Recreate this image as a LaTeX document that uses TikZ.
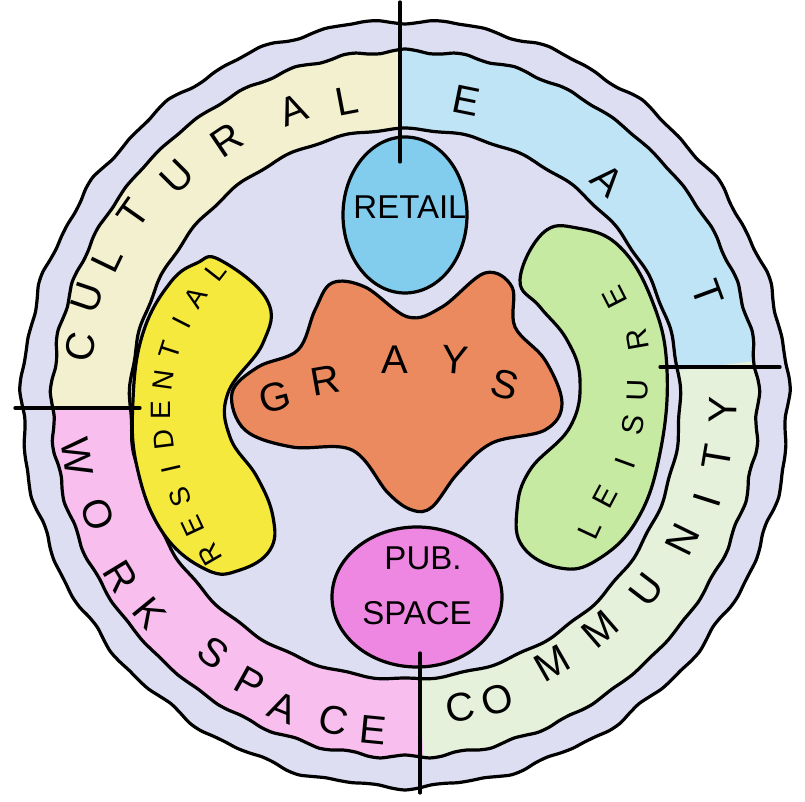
\documentclass[tikz,border=0pt]{standalone}
\usepackage{fontspec}
\setmainfont{Liberation Sans}
\definecolor{lav}{RGB}{221,222,241}
\definecolor{cultc}{RGB}{242,240,206}
\definecolor{eatc}{RGB}{190,228,245}
\definecolor{commc}{RGB}{229,241,218}
\definecolor{workc}{RGB}{247,190,238}
\definecolor{retc}{RGB}{130,205,238}
\definecolor{resc}{RGB}{246,233,62}
\definecolor{leic}{RGB}{198,234,162}
\definecolor{pubc}{RGB}{238,135,226}
\definecolor{grayc}{RGB}{234,138,94}
\tikzset{
  ink/.style={draw=black, line width=3.2pt, line join=round, line cap=round},
  bandletter/.style={font=\fontsize{40}{40}\selectfont, inner sep=0pt},
  innerletter/.style={font=\fontsize{28}{28}\selectfont, inner sep=0pt},
  smallletter/.style={font=\fontsize{30}{30}\selectfont, inner sep=0pt},
  blobtext/.style={font=\fontsize{33}{33}\selectfont, inner sep=0pt},
}
\begin{document}
\begin{tikzpicture}[x=1pt,y=1pt]
\useasboundingbox (0,0) rectangle (805,802);
\fill[white] (0,0) rectangle (805,802);
\begin{scope}[shift={(405,398)}]
  % whole disc
  \draw[ink, fill=lav] plot[smooth cycle, samples=180, domain=0:358]
    (\x:{383+1.8*sin(23*\x)+1.2*sin(43*\x)});
  % band sectors
  \fill[eatc]  (7:275) arc[start angle=7, end angle=91, radius=275] -- (91:353) arc[start angle=91, end angle=7, radius=353] -- cycle;
  \fill[cultc] (91:275) arc[start angle=91, end angle=181, radius=275] -- (181:353) arc[start angle=181, end angle=91, radius=353] -- cycle;
  \fill[workc] (181:275) arc[start angle=181, end angle=273, radius=275] -- (273:353) arc[start angle=273, end angle=181, radius=353] -- cycle;
  \fill[commc] (273:275) arc[start angle=273, end angle=367, radius=275] -- (367:353) arc[start angle=367, end angle=273, radius=353] -- cycle;
  % band edges
  \draw[ink] plot[smooth cycle, samples=180, domain=0:358]
    (\x:{353+1.2*sin(41*\x)+0.8*sin(37*\x)});
  \draw[ink] plot[smooth cycle, samples=180, domain=0:358]
    (\x:{275+1.0*sin(29*\x)});
  % band letters
  \foreach \ch/\a/\r [count=\i] in {C/170/330, U/161.4/335, L/154.2/331, T/144.9/332, U/135.1/322, R/124/318, A/110.9/315, L/100.8/309}
    \node[bandletter, rotate=\a-90] (cu\i) at (\a:\r) {\ch};
  \foreach \ch/\a/\r [count=\i] in {E/78.5/310, A/47.9/302, T/20.2/322}
    \node[bandletter, rotate=\a-90] (ea\i) at (\a:\r) {\ch};
  \foreach \ch/\a/\r [count=\i] in {W/189.2/332, O/199.8/327, R/211.3/333, K/219.3/330, S/232.4/314, P/240.9/319, A/248.1/327, C/257.2/324, E/264.4/328}
    \node[bandletter, rotate=\a+90] (wo\i) at (\a:\r) {\ch};
  \foreach \ch/\a/\r [count=\i] in {C/280.3/308, O/287.3/310, M/299.7/298, M/310.8/298, U/322.5/305, N/333.9/309, I/342.4/317, T/350.4/316, Y/358.9/318}
    \node[bandletter, rotate=\a+90] (co\i) at (\a:\r) {\ch};
\end{scope}
% inner shapes
\draw[ink, fill=retc] (405,587) ellipse[x radius=62, y radius=78];
\draw[ink, fill=pubc] (417,205) ellipse[x radius=85, y radius=70];
\draw[ink, fill=resc] plot[smooth cycle, tension=0.7] coordinates {
  (220,542) (267,502) (263,459) (228,409) (230,365) (257,325) (273,285)
  (270,252) (240,232) (207,232) (163,269) (137,335) (133,402) (143,469)
  (170,519) (197,539)};
\draw[ink, fill=leic] plot[smooth cycle, tension=0.7] coordinates {
  (520,522) (543,569) (577,574) (620,555) (653,499) (667,432) (660,349)
  (637,282) (597,242) (560,234) (523,255) (517,292) (530,332) (570,375)
  (580,422) (567,462) (540,495)};
\draw[ink, fill=grayc] plot[smooth cycle, tension=0.6] coordinates {
  (332,519) (365,515) (408,485) (442,495) (485,529) (512,515) (515,475)
  (545,442) (562,399) (545,372) (492,359) (458,329) (432,295) (412,292)
  (388,309) (352,352) (292,355) (245,372) (232,409) (258,435) (298,452)
  (315,492)};
% dividers
\draw[ink] (400,800) -- (400,640);
\draw[ink] (420,149) -- (420,9);
\draw[ink] (15,394) -- (140,394);
\draw[ink] (660,435) -- (780,435);
% inner texts
\node[blobtext] (retail) at (410,595) {RETAIL};
\node[blobtext] (pub) at (423,244) {PUB.};
\node[blobtext] (space) at (417,189) {SPACE};
\foreach \ch/\x/\y/\r [count=\i] in {G/275/405/15, R/325/422/10, A/395/442/0, Y/455/442/-5, S/505/417/-15}
  \node[bandletter] (gr\i) at (\x,\y) [rotate=\r] {\ch};
\foreach \ch/\x/\y/\r [count=\i] in {R/210/247/120, E/193/276/115, S/180/305/110, I/171/333/103, D/164/362/97, E/161/392/90, N/163/422/82, T/170/452/72, I/182/479/63, A/196/505/57, L/216/531/52}
  \node[innerletter] (re\i) at (\x,\y) [rotate=\r] {\ch};
\foreach \ch/\x/\y/\r [count=\i] in {L/590/272/65, E/605/305/62, I/625/339/70, S/633/377/80, U/638/412/88, R/637/462/100, E/615/505/117}
  \node[smallletter] (le\i) at (\x,\y) [rotate=\r] {\ch};
\end{tikzpicture}
\end{document}
